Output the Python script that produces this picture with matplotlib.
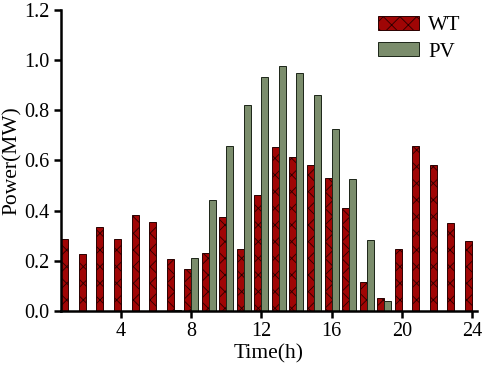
import numpy as np
import matplotlib.pyplot as plt
plt.rcParams['font.family'] = 'Liberation Serif'
plt.rcParams['hatch.linewidth'] = 0.6

hours = np.arange(1, 25)
wt = [0.285, 0.228, 0.333, 0.288, 0.381, 0.356, 0.205, 0.169, 0.232, 0.375, 0.248, 0.461,
      0.653, 0.615, 0.582, 0.529, 0.411, 0.117, 0.051, 0.245, 0.657, 0.580, 0.350, 0.277]
pv = [0, 0, 0, 0, 0, 0, 0.004, 0.209, 0.443, 0.656, 0.822, 0.931,
      0.976, 0.947, 0.863, 0.724, 0.528, 0.282, 0.039, 0, 0, 0, 0, 0]

fig = plt.figure(figsize=[4.84, 3.71], dpi=100)
ax = fig.add_axes([0.126, 0.162, 0.86, 0.811])

w = 0.4
ax.bar(hours, wt, width=-w, align='edge', color='#A00505', edgecolor='#2a0000',
       linewidth=0.7, hatch='xx', label='WT')
ax.bar(hours, pv, width=w, align='edge', color='#7B8D6C', edgecolor='#1c2418',
       linewidth=0.7, label='PV')

ax.set_xlim(0.58, 24.3)
ax.set_ylim(0, 1.2)
ax.set_xticks([4, 8, 12, 16, 20, 24])
ax.set_yticks(np.arange(0, 1.21, 0.2))
ax.set_yticklabels([f"{v:.1f}" for v in np.arange(0, 1.21, 0.2)])
for s in ['top', 'right']:
    ax.spines[s].set_visible(False)
for s in ['left', 'bottom']:
    ax.spines[s].set_linewidth(1.8)
ax.tick_params(width=1.8, length=5, labelsize=14.5, pad=3)
ax.set_xlabel("Time(h)", fontsize=15.5, labelpad=2)
ax.set_ylabel("Power(MW)", fontsize=15.5)
ax.yaxis.set_label_coords(-0.095, 0.5)
ax.legend(loc='upper right', bbox_to_anchor=(0.985, 1.015), frameon=False, fontsize=15,
          handlelength=1.95, handleheight=0.65, borderaxespad=0.1, labelspacing=0.35,
          handletextpad=0.45)

plt.savefig("out.png")
